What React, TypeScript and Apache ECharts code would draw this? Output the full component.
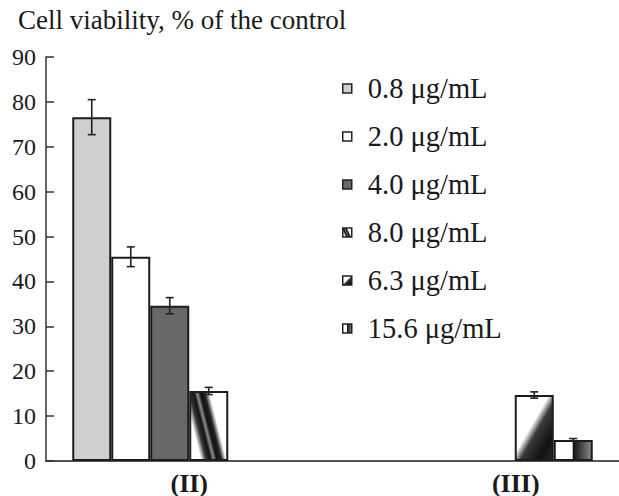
import React, { useEffect, useRef } from "react";
import * as echarts from "echarts";

const categories = ["(II)", "(III)"];
const concentrations = ["0.8 μg/mL", "2.0 μg/mL", "4.0 μg/mL", "8.0 μg/mL", "6.3 μg/mL", "15.6 μg/mL"];
const viabilityII = [76.6, 45.5, 34.6, 15.6, null, null];
const viabilityIII = [null, null, null, null, 14.7, 4.7];
const errorII = [3.9, 2.2, 1.8, 0.8, null, null];
const errorIII = [null, null, null, null, 0.7, 0.3];
const yTicks = { min: 0, max: 90, interval: 10 };

const SERIF = "'Liberation Serif', 'Times New Roman', serif";
const BAR_W = 39;
const EDGE = "#1c1c1c";

const fills: any[] = [
  "#cfcfcf",
  "#ffffff",
  "#686868",
  {
    type: "linear", x: 0, y: 1, x2: 1.2, y2: 0.446,
    colorStops: [
      { offset: 0, color: "#ffffff" },
      { offset: 0.2, color: "#ffffff" },
      { offset: 0.3, color: "#333333" },
      { offset: 0.38, color: "#111111" },
      { offset: 0.44, color: "#8a8a8a" },
      { offset: 0.5, color: "#111111" },
      { offset: 0.58, color: "#222222" },
      { offset: 0.67, color: "#ffffff" },
      { offset: 1, color: "#ffffff" },
    ],
  },
  {
    type: "linear", x: 0, y: 0, x2: 1, y2: 1,
    colorStops: [
      { offset: 0, color: "#ffffff" },
      { offset: 0.44, color: "#ffffff" },
      { offset: 0.56, color: "#3a3a3a" },
      { offset: 0.8, color: "#111111" },
      { offset: 1, color: "#2a2a2a" },
    ],
  },
  {
    type: "linear", x: 0, y: 0, x2: 1, y2: 0,
    colorStops: [
      { offset: 0, color: "#ffffff" },
      { offset: 0.47, color: "#ffffff" },
      { offset: 0.5, color: "#111111" },
      { offset: 1, color: "#8a8a8a" },
    ],
  },
];

export default function App() {
  const ref = useRef<HTMLDivElement>(null);
  useEffect(() => {
    if (!ref.current) return;
    const chart = echarts.init(ref.current, null, { renderer: "svg" });

    const barSeries = concentrations.map((name, i) => ({
      name,
      type: "bar",
      data: [viabilityII[i], viabilityIII[i]],
      barWidth: BAR_W,
      barGap: "0%",
      itemStyle: { color: fills[i], borderColor: EDGE, borderWidth: 2 },
      z: 2,
    }));

    const errData: any[] = [];
    concentrations.forEach((_, i) => {
      if (viabilityII[i] != null) errData.push([0, viabilityII[i], errorII[i], i]);
      if (viabilityIII[i] != null) errData.push([1, viabilityIII[i], errorIII[i], i]);
    });

    const errSeries = {
      type: "custom",
      name: "err",
      data: errData,
      encode: { x: 0, y: 1 },
      z: 10,
      renderItem: (params: any, api: any) => {
        const c = api.value(0);
        const v = api.value(1);
        const e = api.value(2);
        const slot = api.value(3);
        const center = api.coord([c, v]);
        const x = center[0] + (slot - (concentrations.length - 1) / 2) * BAR_W;
        const top = api.coord([c, v + e])[1];
        const bot = api.coord([c, v - e])[1];
        const st = { stroke: "#222", lineWidth: 1.6 };
        return {
          type: "group",
          children: [
            { type: "line", shape: { x1: x, y1: top, x2: x, y2: bot }, style: st },
            { type: "line", shape: { x1: x - 4, y1: top, x2: x + 4, y2: top }, style: st },
            { type: "line", shape: { x1: x - 4, y1: bot, x2: x + 4, y2: bot }, style: st },
          ],
        };
      },
    };

    chart.setOption({
      animation: false,
      title: {
        text: "Cell viability, % of the control",
        left: 13,
        top: 1,
        textStyle: { fontFamily: SERIF, fontSize: 27, fontWeight: "normal", color: "#1a1a1a" },
      },
      legend: {
        orient: "vertical",
        left: 337,
        top: 69,
        data: concentrations,
        icon: "rect",
        itemWidth: 9,
        itemHeight: 9,
        itemGap: 19,
        itemStyle: { borderColor: "#222", borderWidth: 1.5 },
        textStyle: { fontFamily: SERIF, fontSize: 28.5, color: "#1a1a1a", lineHeight: 28.5, padding: [0, 0, 0, 11] },
      },
      grid: { left: 46, right: 0, top: 57, bottom: 34 },
      xAxis: {
        type: "category",
        data: categories,
        axisLine: { lineStyle: { color: "#555", width: 2 } },
        axisTick: { show: false },
        axisLabel: {
          fontFamily: SERIF, fontSize: 26, fontWeight: "bold", color: "#1a1a1a", margin: 9,
          formatter: (v: string, i: number) => (i === 1 ? "{s|" + v + "}" : v),
          rich: { s: { fontFamily: SERIF, fontSize: 26, fontWeight: "bold", color: "#1a1a1a", padding: [0, 0, 0, 80] } },
        },
      },
      yAxis: {
        type: "value",
        min: yTicks.min,
        max: yTicks.max,
        interval: yTicks.interval,
        splitLine: { show: false },
        axisLine: { show: true, lineStyle: { color: "#333", width: 1.5 } },
        axisTick: { show: true, inside: true, length: 8, lineStyle: { color: "#333", width: 1.5 } },
        axisLabel: { fontFamily: SERIF, fontSize: 24, color: "#1a1a1a", margin: 10 },
      },
      series: [...barSeries, errSeries],
    });
    return () => chart.dispose();
  }, []);
  return <div ref={ref} style={{ width: 619, height: 496, position: "absolute", left: 0, top: 0 }} />;
}
